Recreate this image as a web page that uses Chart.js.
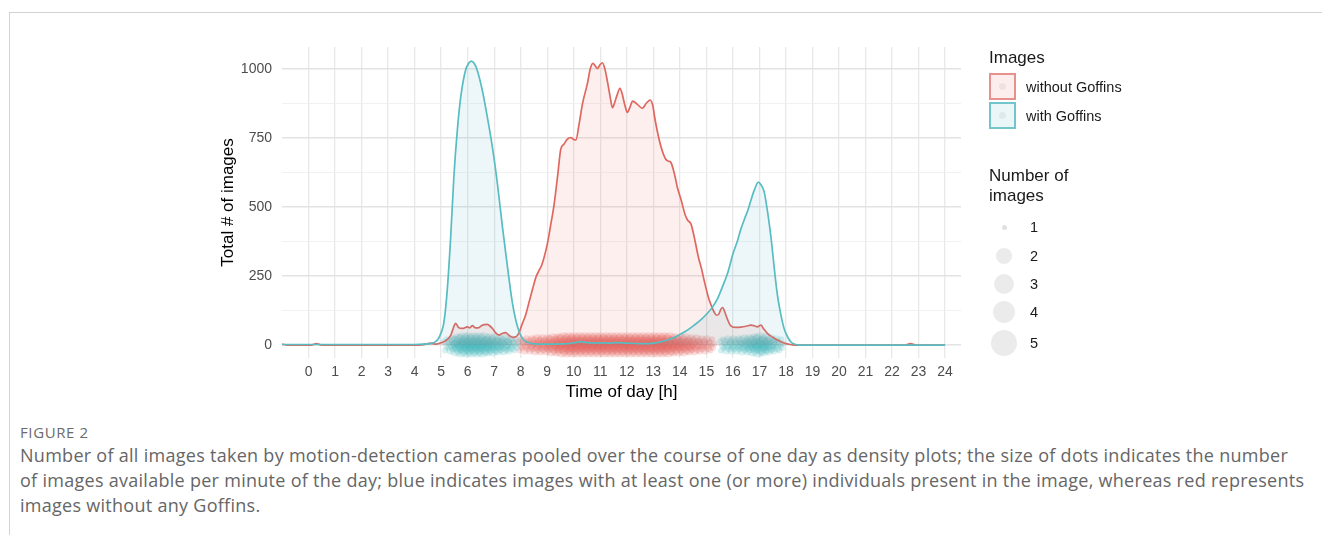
<!DOCTYPE html>
<html>
<head>
<meta charset="utf-8">
<script src="https://cdn.jsdelivr.net/npm/chart.js@4.4.1/dist/chart.umd.min.js"></script>
<style>
  html, body { margin: 0; padding: 0; background: #fff; }
  body { width: 1322px; height: 535px; position: relative; overflow: hidden;
         font-family: "Liberation Sans", Arial, sans-serif; }
  #frame { position: absolute; left: 9px; top: 12px; right: 0; bottom: 0;
           border-left: 1px solid #d2d2d2; border-top: 1px solid #d2d2d2; }
  #plot { position: absolute; left: 0; top: 0; width: 1322px; height: 420px; }
  .lg { position: absolute; white-space: nowrap; color: #1a1a1a; }
  .lg-title { font-size: 17px; line-height: 20px; }
  .lg-text { font-size: 14.5px; line-height: 16px; }
  .key { position: absolute; width: 23px; height: 23px; border: 2px solid; }
  .key i { position: absolute; left: 8px; top: 8px; width: 7px; height: 7px;
           border-radius: 50%; background: rgba(0,0,0,0.05); }
  .dot { position: absolute; border-radius: 50%; background: rgba(0,0,0,0.08); }
  #fig { position: absolute; left: 20px; top: 422px; font-family: "Open Sans", sans-serif;
         font-size: 15px; letter-spacing: 0.6px; color: #6b6b6b; white-space: nowrap; }
  #cap { position: absolute; left: 20px; top: 443px; font-family: "Open Sans", sans-serif;
         font-size: 18px; letter-spacing: 0.28px; line-height: 25px; color: #666; white-space: nowrap; }
</style>
</head>
<body>
<div id="frame"></div>
<div id="plot"><canvas id="chart" width="1322" height="420"></canvas></div>

<div class="lg lg-title" style="left:989px; top:48px;">Images</div>
<div class="key" style="left:989px; top:73px; border-color:#e8908b; background:#fbeeed;"><i></i></div>
<div class="key" style="left:989px; top:102px; border-color:#72c5ca; background:#ebf6f8;"><i></i></div>
<div class="lg lg-text" style="left:1026px; top:79px;">without Goffins</div>
<div class="lg lg-text" style="left:1026px; top:108px;">with Goffins</div>

<div class="lg lg-title" style="left:989px; top:166px;">Number of<br>images</div>
<div id="sizeLegend"></div>

<div id="fig">FIGURE 2</div>
<div id="cap">Number of all images taken by motion-detection cameras pooled over the course of one day as density plots; the size of dots indicates the number<br>of images available per minute of the day; blue indicates images with at least one (or more) individuals present in the image, whereas red represents<br>images without any Goffins.</div>

<script>
// Density curve of images without Goffins (hour of day, images)
const redHours = [-1.0, -0.8, 0.1, 0.3, 0.5, 4.2, 4.45, 4.6, 4.8, 5.0, 5.2, 5.36, 5.5, 5.55, 5.65, 5.8, 5.99, 6.08, 6.18,
  6.3, 6.4, 6.55, 6.65, 6.74, 6.85, 6.95, 7.05, 7.18, 7.3, 7.43, 7.55, 7.69, 7.82, 7.94, 8.05, 8.19, 8.3, 8.44, 8.57,
  8.69, 8.8, 9.0, 9.13, 9.26, 9.4, 9.51, 9.63, 9.75, 9.89, 10.0, 10.08, 10.2, 10.33, 10.52, 10.62, 10.72, 10.82, 10.9,
  10.98, 11.08, 11.18, 11.27, 11.38, 11.46, 11.54, 11.62, 11.74, 11.82, 11.92, 12.02, 12.12, 12.22, 12.4, 12.58, 12.75,
  12.88, 12.98, 13.06, 13.16, 13.3, 13.47, 13.58, 13.66, 13.8, 13.91, 14.05, 14.2, 14.29, 14.42, 14.55, 14.7, 14.82,
  14.95, 15.1, 15.2, 15.3, 15.38, 15.47, 15.55, 15.62, 15.7, 15.8, 15.9, 16.1, 16.3, 16.5, 16.68, 16.8, 16.93, 17.0,
  17.06, 17.15, 17.3, 17.5, 17.68, 17.9, 18.06, 18.3, 22.5, 22.7, 22.9, 24.0];
const redValues = [3, 0, 0, 5, 0, 0, 4, 7, 3, 8, 18, 35, 72, 79, 64, 60, 66, 62, 70,
  62, 62, 72, 74, 75, 68, 58, 45, 36, 42, 45, 36, 28, 30, 45, 75, 110, 150, 200, 245,
  270, 292, 365, 435, 510, 620, 710, 728, 745, 752, 745, 743, 800, 875, 950, 1000, 1021, 1010, 1002,
  1015, 1023, 998, 955, 895, 860, 878, 902, 930, 912, 872, 843, 862, 884, 872, 858, 878,
  888, 868, 820, 770, 715, 673, 666, 662, 618, 570, 525, 472, 453, 438, 388, 318, 275,
  220, 165, 140, 118, 108, 112, 130, 136, 118, 92, 72, 64, 65, 68, 72, 70, 66, 70,
  72, 60, 42, 28, 18, 8, 4, 0, 0, 5, 0, 0];

// Density curve of images with Goffins (hour of day, images)
const tealHours = [-1.0, 4.0, 4.6, 4.86, 5.0, 5.1, 5.23, 5.36, 5.48, 5.61, 5.74, 5.92, 6.03, 6.14, 6.25, 6.36, 6.55,
  6.74, 6.93, 7.12, 7.31, 7.5, 7.69, 7.88, 8.06, 8.31, 8.5, 9.0, 9.5, 9.76, 10.0, 10.26, 10.5, 10.8, 11.0, 11.3, 11.65,
  12.0, 12.5, 12.8, 13.2, 13.53, 13.8, 14.04, 14.3, 14.54, 14.8, 15.04, 15.25, 15.42, 15.6, 15.8, 16.0, 16.18, 16.3,
  16.45, 16.57, 16.68, 16.81, 16.96, 17.05, 17.18, 17.28, 17.37, 17.46, 17.56, 17.68, 17.81, 17.93, 18.06, 18.2,
  18.31, 18.5, 24.0];
const tealValues = [2, 2, 5, 18, 45, 79, 199, 392, 610, 779, 900, 996, 1020, 1029, 1020, 996, 924,
  827, 719, 586, 429, 284, 151, 66, 24, 8, 4, 3, 4, 5, 8, 12, 9, 7, 8, 7, 9,
  7, 5, 5, 10, 18, 28, 40, 55, 72, 92, 115, 140, 168, 210, 260, 330, 380, 420,
  460, 490, 525, 562, 590, 582, 555, 500, 440, 370, 278, 180, 109, 60, 30, 10,
  4, 0, 0];

// Per-minute image dots along the baseline: column hour and image count (1-5)
const redDotHours = [8.0, 8.2, 8.4, 8.6, 8.8, 9.0, 9.2, 9.4, 9.6, 9.8, 10.0, 10.2, 10.4, 10.6, 10.8, 11.0, 11.2, 11.4,
  11.6, 11.8, 12.0, 12.2, 12.4, 12.6, 12.8, 13.0, 13.2, 13.4, 13.6, 13.8, 14.0, 14.2, 14.4, 14.6, 14.8, 15.0, 15.2];
const redDotCounts = [1, 2, 2, 3, 3, 3, 4, 4, 5, 5, 5, 5, 5, 5, 5, 5, 5, 5,
  5, 5, 5, 5, 5, 5, 5, 5, 5, 5, 5, 4, 4, 4, 3, 3, 2, 2, 1];
const tealDotHours = [5.2, 5.4, 5.6, 5.8, 6.0, 6.2, 6.4, 6.6, 6.8, 7.0, 7.2, 7.4, 7.6, 7.8,
  15.6, 15.8, 16.0, 16.2, 16.4, 16.6, 16.8, 17.0, 17.2, 17.4, 17.6, 17.8];
const tealDotCounts = [1, 2, 4, 5, 5, 5, 5, 5, 4, 4, 3, 3, 2, 1,
  1, 2, 2, 2, 3, 3, 4, 5, 4, 3, 2, 1];
// Jitter placement of the dots inside each column: vertical offset (images) and sideways shift (h)
const dotRowY = [-20, -11, -3, 5, 13, 21];
const dotRowShift = [0.03, 0.13, 0.07, 0.17, 0.0, 0.1];
const dotRadius = [0, 3, 4, 5, 6, 7];

// Axis ticks
const xTickValues = [0, 1, 2, 3, 4, 5, 6, 7, 8, 9, 10, 11, 12, 13, 14, 15, 16, 17, 18, 19, 20, 21, 22, 23, 24];
const yTickValues = [0, 125, 250, 375, 500, 625, 750, 875, 1000];
const yLabelled = [0, 250, 500, 750, 1000];

// Size legend: image count and circle radius
const sizeCounts = [1, 2, 3, 4, 5];
const sizeLegendRadius = [2.5, 8, 10, 11.3, 13];
const sizeLegendY = [227, 256, 284, 312, 343];

const sl = document.getElementById('sizeLegend');
sizeCounts.forEach((c, i) => {
  const r = sizeLegendRadius[i];
  const d = document.createElement('div');
  d.className = 'dot';
  d.style.cssText = `left:${1004 - r}px;top:${sizeLegendY[i] - r}px;width:${2 * r}px;height:${2 * r}px;` +
    (i === 0 ? 'background:rgba(0,0,0,0.12);' : '');
  sl.appendChild(d);
  const t = document.createElement('div');
  t.className = 'lg lg-text';
  t.style.cssText = `left:1030px;top:${sizeLegendY[i] - 8}px;`;
  t.textContent = String(c);
  sl.appendChild(t);
});

const pairs = (xs, ys) => xs.map((x, i) => ({ x: x, y: ys[i] }));
const dots = (hours, counts) => {
  const out = [];
  hours.forEach((h, i) => dotRowY.forEach((dy, k) =>
    out.push({ x: h + dotRowShift[k] - 0.08, y: dy, r: dotRadius[counts[i]] })));
  return out;
};

const RED = '#e0675f';
const TEAL = '#57bdc2';

Chart.defaults.font.family = '"Liberation Sans", Arial, sans-serif';

new Chart(document.getElementById('chart'), {
  type: 'line',
  data: {
    datasets: [
      {
        type: 'line', label: 'with Goffins', data: pairs(tealHours, tealValues),
        borderColor: TEAL, borderWidth: 1.7, pointRadius: 0, fill: 'origin',
        backgroundColor: 'rgba(80,165,190,0.10)', cubicInterpolationMode: 'monotone', order: 1
      },
      {
        type: 'line', label: 'without Goffins', data: pairs(redHours, redValues),
        borderColor: RED, borderWidth: 1.7, pointRadius: 0, fill: 'origin',
        backgroundColor: 'rgba(230,110,100,0.11)', cubicInterpolationMode: 'monotone', order: 2
      },
      {
        type: 'bubble', label: 'dots with Goffins', data: dots(tealDotHours, tealDotCounts),
        backgroundColor: 'rgba(70,185,190,0.21)', borderWidth: 0, order: 3
      },
      {
        type: 'bubble', label: 'dots without Goffins', data: dots(redDotHours, redDotCounts),
        backgroundColor: 'rgba(225,100,95,0.21)', borderWidth: 0, order: 4
      }
    ]
  },
  options: {
    responsive: false,
    animation: false,
    events: [],
    layout: { padding: { left: 200, top: 47, right: 361, bottom: 2 } },
    plugins: { legend: { display: false }, tooltip: { enabled: false } },
    scales: {
      x: {
        type: 'linear', min: -1, max: 24.6,
        afterBuildTicks: s => { s.ticks = xTickValues.map(v => ({ value: v })); },
        afterFit: s => { s.height = 60; },
        ticks: { color: '#4d4d4d', font: { size: 14 }, padding: 6, maxRotation: 0, autoSkip: false,
                 callback: v => String(v) },
        grid: { color: '#e8e8e8', lineWidth: 1.3, drawTicks: false },
        border: { display: false },
        title: { display: true, text: 'Time of day [h]', color: '#000', font: { size: 17 },
                 padding: { top: 0, bottom: 15 } }
      },
      y: {
        type: 'linear', min: -47, max: 1080,
        afterBuildTicks: s => { s.ticks = yTickValues.map(v => ({ value: v })); },
        afterFit: s => { s.width = 82; },
        ticks: { color: '#4d4d4d', font: { size: 14 }, padding: 10, autoSkip: false,
                 callback: v => (yLabelled.includes(v) ? String(v) : '') },
        grid: {
          drawTicks: false,
          color: c => (yLabelled.includes(c.tick.value) ? '#e3e3e3' : '#efefef'),
          lineWidth: c => (yLabelled.includes(c.tick.value) ? 1.5 : 0.9)
        },
        border: { display: false },
        title: { display: true, text: 'Total # of images', color: '#000', font: { size: 17 },
                 padding: { top: 18, bottom: 0 } }
      }
    }
  }
});
</script>
</body>
</html>
